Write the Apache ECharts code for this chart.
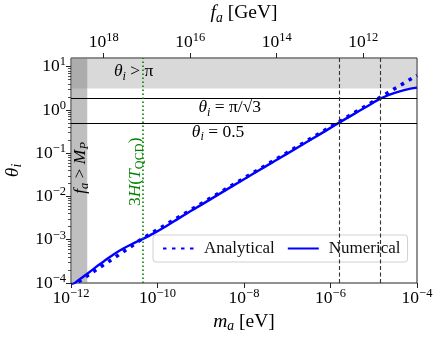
<!DOCTYPE html>
<html>
<head>
<meta charset="utf-8">
<script src="https://cdn.jsdelivr.net/npm/echarts@6/dist/echarts.min.js"></script>
<style>
html,body{margin:0;padding:0;background:#fff;}
#c{width:441px;height:339px;}
</style>
</head>
<body>
<div id="c"></div>
<script>
// ---- data ----
// axion mass m_a [eV] for the numerical solution
const numMass = [1e-12, 1.26e-12, 2.51e-12, 4.27e-12, 6.31e-12, 1e-11, 1.58e-11, 2.51e-11, 4.47e-11, 7.94e-11,
  1.58e-10, 3.16e-10, 1e-9, 3.16e-9, 1e-8, 3.16e-8, 1e-7, 3.16e-7, 1e-6, 1.58e-6, 3.16e-6, 6.31e-6, 1.38e-5, 2.51e-5, 3.98e-5, 6.31e-5, 1e-4];
const numTheta = [8.5e-5, 1.02e-4, 1.70e-4, 2.57e-4, 3.39e-4, 4.68e-4, 6.17e-4, 7.85e-4, 1.035e-3, 1.38e-3,
  2.04e-3, 3.16e-3, 6.31e-3, 1.26e-2, 2.51e-2, 4.95e-2, 9.77e-2, 0.193, 0.385, 0.508, 0.759, 1.135, 1.795, 2.32, 2.69, 3.02, 3.27];
// analytical estimate
const anaMass = [1e-12, 3.16e-12, 1e-11, 4.47e-11, 1e-9, 1e-8, 1e-7, 1e-6, 1e-5, 1e-4];
const anaTheta = [8.1e-5, 1.78e-4, 3.8e-4, 1.06e-3, 6.71e-3, 2.64e-2, 0.1035, 0.407, 1.585, 6.31];
// reference values
const thetaPi = Math.PI;
const thetaPiSqrt3 = Math.PI / Math.sqrt(3);
const thetaHalf = 0.5;
const massPlanck = 2.375e-12;    // m_a where f_a = M_P
const massQCD = 4.7e-11;         // m_a where m_a = 3H(T_QCD)
const massCross = [1.58e-6, 1.39e-5]; // dashed guide lines
const massFaConst = 5.7e-6;      // m_a [eV] at f_a = 1e12 GeV
const faTickExp = [18, 16, 14, 12];
const xTickExp = [-12, -10, -8, -6, -4];
const yTickExp = [-4, -3, -2, -1, 0, 1];
const xRange = [-12, -4];
const yRange = [-4, 1.2];

// ---- helpers ----
const L = Math.log10;
const FA_OFF = L(massFaConst) + 12;
const FONT = '"Liberation Serif","DejaVu Serif",serif';
function pair(ms, ts) { return ms.map((m, i) => [L(m), L(ts[i])]); }
function sup(e) { return '{b|10}{s|' + String(e).replace('-', '\u2212') + '}'; }
const richSup = {
  b: { fontFamily: FONT, fontSize: 17.5, color: '#000', lineHeight: 22, verticalAlign: 'middle' },
  s: { fontFamily: FONT, fontSize: 12.5, color: '#000', lineHeight: 14, verticalAlign: 'top' }
};
function mathRich(fs, color) {
  return {
    it: { fontFamily: FONT, fontStyle: 'italic', fontSize: fs, color: color, lineHeight: fs + 4, verticalAlign: 'middle' },
    n: { fontFamily: FONT, fontSize: fs, color: color, lineHeight: fs + 4, verticalAlign: 'middle' },
    sub: { fontFamily: FONT, fontStyle: 'italic', fontSize: fs * 0.7, color: color, lineHeight: fs * 0.8, verticalAlign: 'bottom' },
    rsub: { fontFamily: FONT, fontSize: fs * 0.7, color: color, lineHeight: fs * 0.8, verticalAlign: 'bottom' }
  };
}
const richAxis = mathRich(19.5, '#000');
const richText = mathRich(17.5, '#000');
const richGreen = mathRich(17.5, '#008000');
const minorY = [];
for (let n = yRange[0]; n <= 1; n++) for (let k = 2; k <= 9; k++) { const v = n + L(k); if (v < yRange[1]) minorY.push(v); }

function txt(coord, text, rotate, rich) {
  return { coord: coord, symbol: 'circle', symbolSize: 0,
    label: { show: true, position: 'inside', formatter: text, rotate: rotate || 0, rich: rich || richText } };
}

const chart = echarts.init(document.getElementById('c'), null, { renderer: 'canvas' });
chart.setOption({
  animation: false,
  backgroundColor: '#fff',
  grid: { left: 71, right: 24, top: 58, bottom: 56, containLabel: false, outerBoundsMode: 'none',
    show: true, borderColor: '#222', borderWidth: 1, backgroundColor: 'transparent' },
  legend: {
    data: ['Analytical', 'Numerical'], left: 153, top: 235, itemWidth: 31, itemHeight: 10, itemGap: 12,
    padding: [5, 7, 5, 9], backgroundColor: 'rgba(255,255,255,0.85)', borderColor: '#d0d0d0', borderWidth: 1, borderRadius: 3,
    itemStyle: { opacity: 0, borderWidth: 0 },
    textStyle: { fontFamily: FONT, fontSize: 17, color: '#111', padding: [0, 0, 0, 5] }
  },
  xAxis: [
    { type: 'value', min: xRange[0], max: xRange[1], position: 'bottom',
      name: '{it|m}{sub|a}{n| [eV]}', nameLocation: 'middle', nameGap: 23, nameTextStyle: { rich: richAxis },
      axisLine: { show: false, onZero: false }, splitLine: { show: false },
      axisTick: { show: true, length: 5, lineStyle: { color: '#222', width: 1 }, customValues: xTickExp },
      axisLabel: { customValues: xTickExp, formatter: v => sup(Math.round(v)), rich: richSup, margin: 4 } },
    { type: 'value', min: xRange[0], max: xRange[1], position: 'top',
      name: '{it|f}{sub|a}{n| [GeV]}', nameLocation: 'middle', nameGap: 33, nameTextStyle: { rich: richAxis },
      axisLine: { show: false, onZero: false }, splitLine: { show: false },
      axisTick: { show: true, length: 5, lineStyle: { color: '#222', width: 1 }, customValues: faTickExp.map(e => FA_OFF - e) },
      axisLabel: { customValues: faTickExp.map(e => FA_OFF - e), formatter: v => sup(Math.round(FA_OFF - v)), rich: richSup, margin: 5 } }
  ],
  yAxis: [
    { type: 'value', min: yRange[0], max: yRange[1], position: 'left',
      name: '{it|θ}{sub|i}', nameLocation: 'middle', nameGap: 43, nameRotate: 90, nameTextStyle: { rich: richAxis },
      axisLine: { show: false, onZero: false }, splitLine: { show: false },
      axisTick: { show: true, length: 5, lineStyle: { color: '#222', width: 1 }, customValues: yTickExp },
      axisLabel: { customValues: yTickExp, formatter: v => sup(Math.round(v)), rich: richSup, margin: 5 } },
    { type: 'value', min: yRange[0], max: yRange[1], position: 'left',
      axisLine: { show: false, onZero: false }, splitLine: { show: false },
      axisTick: { show: true, length: 3, lineStyle: { color: '#222', width: 0.8 }, customValues: minorY },
      axisLabel: { show: false } }
  ],
  series: [
    { name: 'bands', type: 'line', data: [], silent: true, z: 1,
      markArea: { silent: true, data: [
        [{ yAxis: L(thetaPi), itemStyle: { color: 'rgba(128,128,128,0.3)' } }, { yAxis: yRange[1] }],
        [{ xAxis: xRange[0], itemStyle: { color: 'rgba(128,128,128,0.5)' } }, { xAxis: L(massPlanck) }]
      ] },
      markLine: { silent: true, symbol: 'none', label: { show: false }, data: [
        { yAxis: L(thetaPiSqrt3), lineStyle: { color: '#000', type: 'solid', width: 1.1 } },
        { yAxis: L(thetaHalf), lineStyle: { color: '#000', type: 'solid', width: 1.1 } },
        { xAxis: L(massCross[0]), lineStyle: { color: '#333', type: [4, 2.5], width: 1.1 } },
        { xAxis: L(massCross[1]), lineStyle: { color: '#333', type: [4, 2.5], width: 1.1 } },
        { xAxis: L(massQCD), lineStyle: { color: '#008000', type: [1.5, 2.5], width: 1.6 } }
      ] },
      markPoint: { silent: true, data: [
        txt([-10.55, 0.88], '{it|θ}{sub|i}{n| > π}'),
        txt([-8.33, 0.05], '{it|θ}{sub|i}{n| = π/√3}'),
        txt([-8.6, -0.51], '{it|θ}{sub|i}{n| = 0.5}'),
        txt([-11.79, -1.34], '{it|f}{sub|a}{n| > }{it|M}{sub|P}', 90),
        txt([-10.52, -1.43], '{n|3}{it|H}{n|(}{it|T}{rsub|QCD}{n|)}', 90, richGreen)
      ] }
    },
    { name: 'Numerical', type: 'line', data: pair(numMass, numTheta), smooth: 0.3, symbol: 'none', z: 4,
      lineStyle: { color: '#0000ff', width: 2.4 }, itemStyle: { color: '#0000ff' } },
    { name: 'Analytical', type: 'line', data: pair(anaMass, anaTheta), smooth: false, symbol: 'none', z: 3,
      lineStyle: { color: '#0000ff', width: 3.6, type: [3.5, 5.5], cap: 'butt' }, itemStyle: { color: '#0000ff' } }
  ]
});
</script>
</body>
</html>
